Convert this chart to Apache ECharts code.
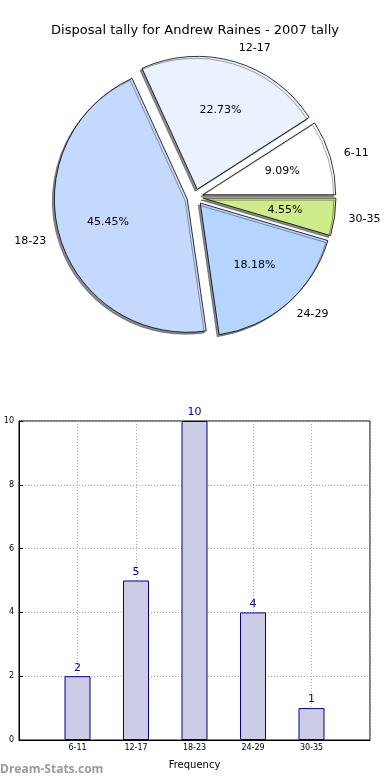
<!DOCTYPE html>
<html>
<head>
<meta charset="utf-8">
<script src="https://cdn.jsdelivr.net/npm/echarts@6/dist/echarts.min.js"></script>
<style>html,body{margin:0;padding:0;background:#fff}#c{width:390px;height:780px}</style>
</head>
<body>
<div id="c"></div>
<script>
const categories = ['6-11', '12-17', '18-23', '24-29', '30-35'];
const tally = [2, 5, 10, 4, 1];
const sliceColors = ['#ffffff', '#eaf1ff', '#c5d9ff', '#b5d5ff', '#cfec8a'];
const yTicks = [0, 2, 4, 6, 8, 10];
const titleText = 'Disposal tally for Andrew Raines - 2007 tally';

const total = tally.reduce((a, b) => a + b, 0);
const FONT = 'DejaVu Sans';
const R = 133;
const OFF = 8;
const PC = [195, 197];

const pieData = categories.map((c, i) => ({
  name: c, value: tally[i], selected: true,
  itemStyle: { color: sliceColors[i] }
}));
const pctData = categories.map((c, i) => ({
  name: c, value: tally[i], selected: true,
  label: { formatter: (tally[i] / total * 100).toFixed(2) + '%' }
}));

const xCats = [''].concat(categories).concat(['']);
const barData = [null].concat(tally).concat([null]);

const chart = echarts.init(document.getElementById('c'), null, { renderer: 'canvas' });
chart.setOption({
  animation: false,
  textStyle: { fontFamily: FONT },
  title: {
    text: titleText, left: 'center', top: 19,
    textStyle: { fontFamily: FONT, fontSize: 13, fontWeight: 'normal', color: '#000' }
  },
  graphic: [{
    type: 'text', left: 0, top: 764,
    style: { text: 'Dream-Stats.com', fill: '#9a9a9a', font: 'bold 12px "Open Sans"' }
  }],
  grid: {
    left: 19, right: 20, top: 421, bottom: 40,
    containLabel: false, outerBoundsMode: 'none',
    show: true, borderColor: '#000', borderWidth: 1
  },
  xAxis: {
    type: 'category', data: xCats, boundaryGap: false,
    name: 'Frequency', nameLocation: 'middle', nameGap: 20,
    nameTextStyle: { fontFamily: FONT, fontSize: 10, color: '#000' },
    axisLine: { lineStyle: { color: '#000' } },
    axisTick: { show: false },
    axisLabel: { fontFamily: FONT, fontSize: 8, color: '#000', margin: 4, interval: 0 },
    splitLine: { show: true, lineStyle: { color: '#a8a8a8', type: [1, 2], width: 1 } }
  },
  yAxis: {
    type: 'value', min: 0, max: 10, interval: 2,
    name: 'Disposal Tally', nameLocation: 'middle', nameGap: 21,
    nameTextStyle: { fontFamily: FONT, fontSize: 9, color: '#000' },
    axisLine: { show: true, lineStyle: { color: '#000' } },
    axisTick: { show: true, inside: true, length: 4, lineStyle: { color: '#000' } },
    axisLabel: { fontFamily: FONT, fontSize: 8, color: '#000', margin: 5 },
    splitLine: { show: true, lineStyle: { color: '#a8a8a8', type: [1, 2], width: 1 } }
  },
  series: [
    {
      type: 'pie', center: PC, radius: [0, R],
      startAngle: 0, clockwise: false, selectedMode: 'multiple', selectedOffset: OFF,
      avoidLabelOverlap: false, silent: true,
      itemStyle: {
        borderColor: '#000', borderWidth: 0.8,
        shadowColor: 'rgba(0,0,0,0.45)', shadowBlur: 0, shadowOffsetX: -2, shadowOffsetY: 2
      },
      select: { itemStyle: { borderColor: '#000', borderWidth: 0.8 } },
      label: {
        show: true, position: 'outside', fontFamily: FONT, fontSize: 11, color: '#000',
        distanceToLabelLine: 0, formatter: '{b}'
      },
      labelLine: { show: false, length: 14, length2: 0 },
      emphasis: { disabled: true },
      data: pieData
    },
    {
      type: 'pie', center: PC, radius: [0, R * 1.2],
      startAngle: 0, clockwise: false, selectedMode: 'multiple', selectedOffset: OFF,
      avoidLabelOverlap: false, silent: true,
      itemStyle: { color: 'rgba(0,0,0,0)', borderWidth: 0 },
      select: { itemStyle: { color: 'rgba(0,0,0,0)', borderWidth: 0 } },
      label: { show: true, position: 'inside', fontFamily: FONT, fontSize: 11, color: '#000' },
      labelLine: { show: false },
      emphasis: { disabled: true },
      data: pctData
    },
    {
      type: 'bar', data: barData, barWidth: 26,
      itemStyle: { color: '#cccce6', borderColor: '#00008b', borderWidth: 1 },
      label: { show: true, position: 'top', distance: 3, fontFamily: FONT, fontSize: 11, color: '#0000a0' },
      emphasis: { disabled: true }
    }
  ]
});
</script>
</body>
</html>
